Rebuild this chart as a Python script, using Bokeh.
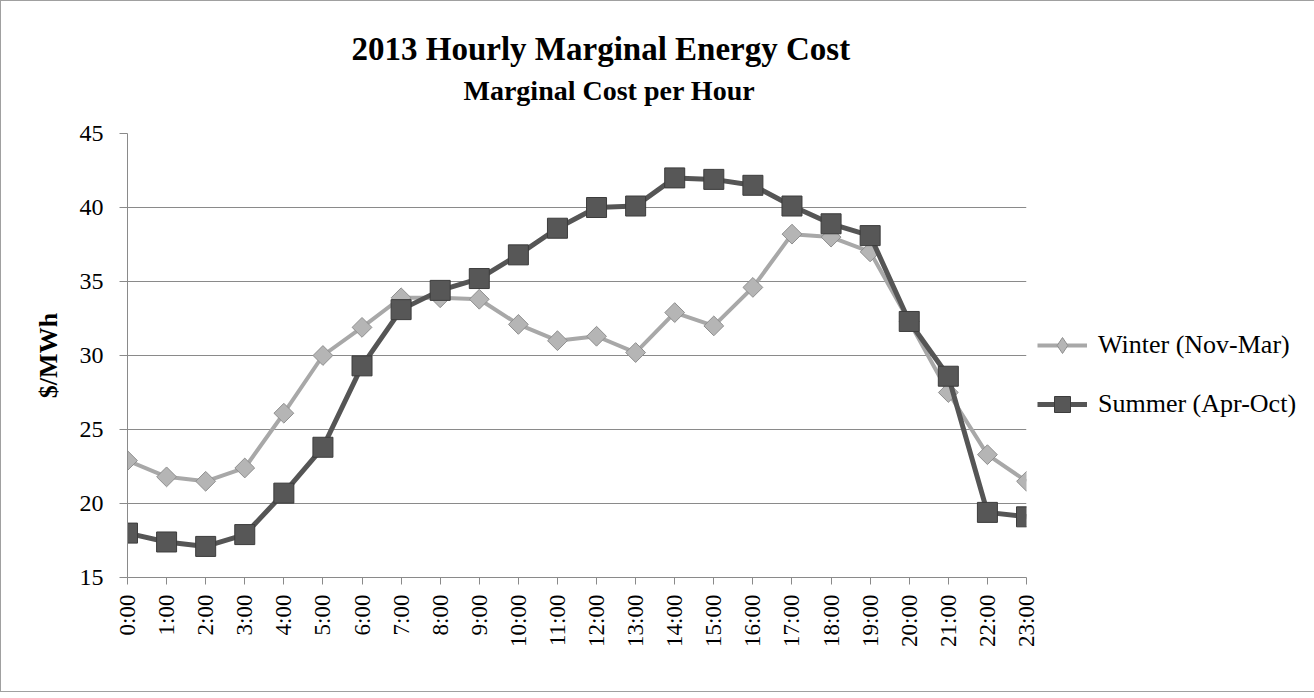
import math
from bokeh.plotting import figure
from bokeh.models import (Range1d, FixedTicker, Title, Legend, LegendItem, ColumnDataSource)
from bokeh.embed import file_html
from bokeh.resources import INLINE

hours = [f"{h}:00" for h in range(24)]
winter = [22.9, 21.8, 21.5, 22.4, 26.1, 30.0, 31.9, 33.9, 33.9, 33.8, 32.1, 31.0,
          31.3, 30.2, 32.9, 32.0, 34.6, 38.2, 38.0, 37.0, 32.3, 27.5, 23.3, 21.5]
summer = [18.0, 17.4, 17.1, 17.9, 20.7, 23.8, 29.3, 33.1, 34.4, 35.2, 36.8, 38.6,
          40.0, 40.1, 42.0, 41.9, 41.5, 40.1, 38.9, 38.1, 32.3, 28.6, 19.4, 19.1]
y_ticks = [15, 20, 25, 30, 35, 40, 45]
series_names = ["Winter (Nov-Mar)", "Summer (Apr-Oct)"]
title_text = "2013 Hourly Marginal Energy Cost"
subtitle_text = "Marginal Cost per Hour"
y_label = "$/MWh"

idx = list(range(len(hours)))
src = ColumnDataSource(dict(x=idx, winter=winter, summer=summer))
# legend key source: a single non-drawable point (only used for the legend swatch)
key_src = ColumnDataSource(dict(x=[float("nan")], y=[float("nan")]))

FONT = "Liberation Serif"
W_LINE, W_FILL, W_EDGE = "#a8a8a8", "#b5b5b5", "#8f8f8f"
S_LINE, S_FILL, S_EDGE = "#555555", "#575757", "#3c3c3c"

p = figure(frame_width=899, frame_height=444, output_backend="svg", toolbar_location=None,
           x_range=Range1d(0, len(hours) - 1), y_range=Range1d(15, 45),
           min_border_left=126, min_border_right=281, min_border_top=132,
           min_border_bottom=114, background_fill_color="white",
           border_fill_color="white", outline_line_color=None,
           styles={"border": "1px solid #a0a0a0"})

spacer = Title(text=" ", text_font=FONT, text_font_size="10px", standoff=8)
p.add_layout(spacer, "above")
sub = Title(text=subtitle_text, align="left", offset=336, text_font=FONT,
            text_font_size="28px", text_font_style="bold", text_color="black",
            standoff=13)
p.add_layout(sub, "above")
main = Title(text=title_text, align="left", offset=224, text_font=FONT,
             text_font_size="33px", text_font_style="bold", text_color="black",
             standoff=0)
p.add_layout(main, "above")

# grid / axes
p.xgrid.grid_line_color = None
p.ygrid.grid_line_color = "#8a8a8a"
p.ygrid.grid_line_width = 1
p.ygrid.ticker = FixedTicker(ticks=y_ticks)

xa = p.xaxis[0]
xa.ticker = FixedTicker(ticks=idx)
xa.major_label_overrides = {i: h for i, h in zip(idx, hours)}
xa.major_label_orientation = math.pi / 2
xa.major_label_text_font = FONT
xa.major_label_text_font_size = "23px"
xa.major_label_text_color = "black"
xa.major_label_standoff = 10
xa.axis_line_color = "#8a8a8a"
xa.major_tick_line_color = "#8a8a8a"
xa.major_tick_out = 7
xa.major_tick_in = 0
xa.minor_tick_line_color = None

ya = p.yaxis[0]
ya.ticker = FixedTicker(ticks=y_ticks)
ya.major_label_text_font = FONT
ya.major_label_text_font_size = "24px"
ya.major_label_text_color = "black"
ya.major_label_standoff = 16
ya.axis_line_color = "#8a8a8a"
ya.major_tick_line_color = "#8a8a8a"
ya.major_tick_out = 8
ya.major_tick_in = 0
ya.minor_tick_line_color = None
ya.axis_label = y_label
ya.axis_label_text_font = FONT
ya.axis_label_text_font_size = "26px"
ya.axis_label_text_font_style = "bold"
ya.axis_label_text_color = "black"
ya.axis_label_standoff = 14

# series
w_line = p.line("x", "winter", source=src, line_color=W_LINE, line_width=4)
w_mark = p.scatter("x", "winter", source=src, marker="square", size=14,
                   angle=math.pi / 4, fill_color=W_FILL, line_color=W_EDGE,
                   line_width=1)
s_line = p.line("x", "summer", source=src, line_color=S_LINE, line_width=5)
s_mark = p.scatter("x", "summer", source=src, marker="square", size=20,
                   fill_color=S_FILL, line_color=S_EDGE, line_width=1)

# legend swatch glyphs (diamond key for winter)
w_key_line = p.line("x", "y", source=key_src, line_color=W_LINE, line_width=4)
w_key_mark = p.scatter("x", "y", source=key_src, marker="diamond", size=20,
                       fill_color=W_FILL, line_color=W_EDGE, line_width=1)

legend = Legend(items=[LegendItem(label=series_names[0], renderers=[w_key_line, w_key_mark]),
                       LegendItem(label=series_names[1], renderers=[s_line, s_mark])],
                location="top_left", title=" ", title_text_font_size="2px",
                title_standoff=179, glyph_width=50, glyph_height=40, spacing=19,
                label_standoff=11, label_text_font=FONT, label_text_font_size="26px",
                label_text_color="black", padding=0, margin=11,
                border_line_color=None, background_fill_alpha=0)
p.add_layout(legend, "right")

open("out.html", "w").write(file_html(p, INLINE))
